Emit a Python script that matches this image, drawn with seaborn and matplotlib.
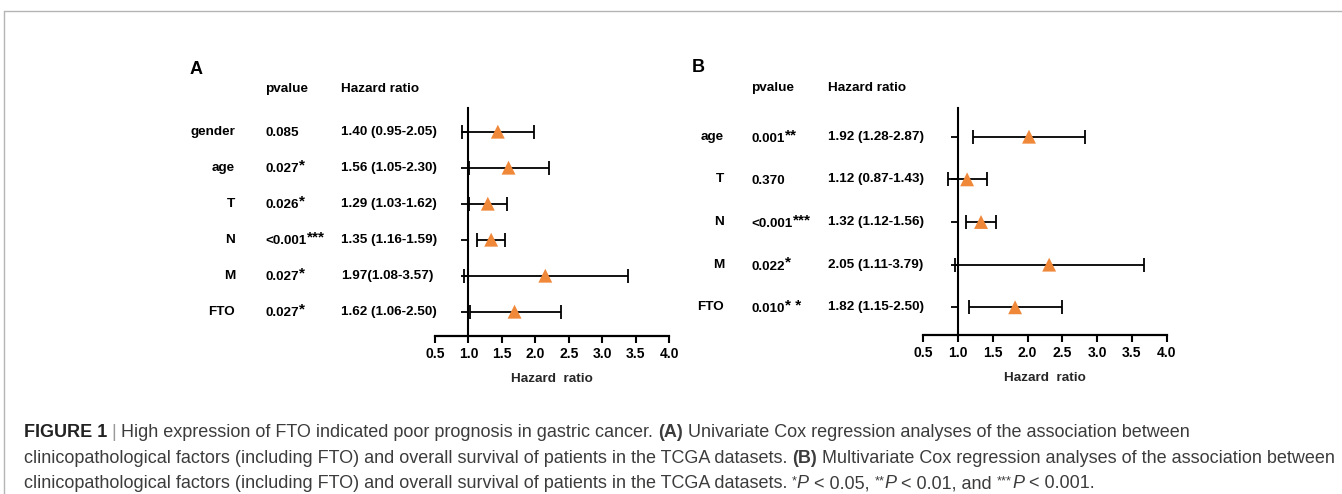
import numpy as np
import pandas as pd
import matplotlib
matplotlib.use("Agg")
import matplotlib.pyplot as plt
import seaborn as sns
from matplotlib.transforms import blended_transform_factory
from matplotlib.lines import Line2D

# ---------------- data ----------------
# Panel A (univariate)
a_factors = ["gender", "age", "T", "N", "M", "FTO"]
a_pvalues = ["0.085", "0.027", "0.026", "<0.001", "0.027", "0.027"]
a_stars = ["", "*", "*", "***", "*", "*"]
a_hr_text = ["1.40 (0.95-2.05)", "1.56 (1.05-2.30)", "1.29 (1.03-1.62)",
             "1.35 (1.16-1.59)", "1.97(1.08-3.57)", "1.62 (1.06-2.50)"]
a_point = [1.44, 1.60, 1.29, 1.34, 2.15, 1.69]
a_low = [0.90, 1.01, 1.01, 1.13, 0.93, 1.02]
a_high = [1.975, 2.21, 1.58, 1.55, 3.38, 2.39]

# Panel B (multivariate)
b_factors = ["age", "T", "N", "M", "FTO"]
b_pvalues = ["0.001", "0.370", "<0.001", "0.022", "0.010"]
b_stars = ["**", "", "***", "*", "* *"]
b_hr_text = ["1.92 (1.28-2.87)", "1.12 (0.87-1.43)", "1.32 (1.12-1.56)",
             "2.05 (1.11-3.79)", "1.82 (1.15-2.50)"]
b_point = [2.02, 1.13, 1.33, 2.31, 1.82]
b_low = [1.22, 0.86, 1.11, 0.95, 1.15]
b_high = [2.82, 1.42, 1.55, 3.68, 2.50]

x_ticks = [0.5, 1.0, 1.5, 2.0, 2.5, 3.0, 3.5, 4.0]
x_ticklabels = ["0.5", "1.0", "1.5", "2.0", "2.5", "3.0", "3.5", "4.0"]

ORANGE = "#F0883A"

# ---------------- style ----------------
sns.set_theme(style="ticks")
plt.rcParams["font.family"] = ["Liberation Sans", "DejaVu Sans"]

W, H = 1342, 494
fig = plt.figure(figsize=(W / 100, H / 100), dpi=100)
fig.patch.set_facecolor("white")


def fx(px):
    return px / W


def fy(py):
    return 1 - py / H


def draw_panel(rect, factors, pvals, stars, hrtxt, point, low, high,
               ylim, col_label_r, col_p, col_hr, letter, letter_xy, header_y):
    ax = fig.add_axes(rect)
    df = pd.DataFrame({"row": np.arange(len(factors)), "hr": point,
                       "low": low, "high": high})
    ax.errorbar(df["hr"], df["row"],
                xerr=[df["hr"] - df["low"], df["high"] - df["hr"]],
                fmt="none", ecolor="black", elinewidth=1.3, capsize=5,
                capthick=1.3, zorder=2)
    sns.scatterplot(data=df, x="hr", y="row", marker="^", s=100,
                    color=ORANGE, edgecolor="none", linewidth=0,
                    ax=ax, zorder=3, legend=False)
    ax.set_xlim(0.5, 4.0)
    ax.set_ylim(*ylim)
    ax.set_xticks(x_ticks)
    ax.set_xticklabels(x_ticklabels, fontweight="bold", fontsize=10)
    ax.set_yticks(df["row"])
    ax.set_yticklabels([])
    ax.set_ylabel("")
    ax.set_xlabel("Hazard  ratio", fontweight="bold", fontsize=9.7,
                  labelpad=8.5)
    ax.set_facecolor("none")
    for s in ["top", "right"]:
        ax.spines[s].set_visible(False)
    ax.spines["left"].set_position(("data", 1.0))
    ax.spines["left"].set_linewidth(1.5)
    ax.spines["bottom"].set_linewidth(1.6)
    ax.spines["left"].set_color("black")
    ax.spines["bottom"].set_color("black")
    ax.tick_params(axis="x", direction="out", length=5, width=1.5,
                   pad=3, colors="black")
    ax.tick_params(axis="y", direction="out", length=5, width=1.3,
                   colors="black")

    tr = blended_transform_factory(fig.transFigure, ax.transData)
    for i in range(len(factors)):
        ax.text(fx(col_label_r), i, factors[i], transform=tr, ha="right",
                va="center", fontsize=9.7, fontweight="bold", color="black")
        pt = ax.text(fx(col_p), i + 0.05, pvals[i], transform=tr, ha="left",
                     va="center", fontsize=9.7, fontweight="bold",
                     color="black")
        if stars[i]:
            ax.annotate(stars[i], xy=(1, 1), xycoords=pt,
                        xytext=(0.3, 3.5), textcoords="offset points",
                        ha="left", va="top", fontsize=11,
                        fontweight="bold", color="black")
        ax.text(fx(col_hr), i, hrtxt[i], transform=tr, ha="left",
                va="center", fontsize=9.7, fontweight="bold", color="black")
    fig.text(fx(col_p), fy(header_y), "pvalue", ha="left", va="center",
             fontsize=9.7, fontweight="bold", color="black")
    fig.text(fx(col_hr), fy(header_y), "Hazard ratio", ha="left",
             va="center", fontsize=9.7, fontweight="bold", color="black")
    fig.text(fx(letter_xy[0]), fy(letter_xy[1]), letter, ha="left",
             va="center", fontsize=13, fontweight="bold", color="black")
    return ax


# Panel A
draw_panel([fx(435), fy(336), fx(669) - fx(435), fy(108) - fy(336)],
           a_factors, a_pvalues, a_stars, a_hr_text, a_point, a_low, a_high,
           (5.675, -0.658), 235, 265, 341, "A", (190, 69), 89)
# Panel B
draw_panel([fx(923.3), fy(335), fx(1166.7) - fx(923.3), fy(108.3) - fy(335)],
           b_factors, b_pvalues, b_stars, b_hr_text, b_point, b_low, b_high,
           (4.65, -0.666), 724, 751, 827.7, "B", (691.7, 67), 88.3)

# ---------------- frame ----------------
fig.add_artist(Line2D([fx(4), 1.0], [fy(11), fy(11)], transform=fig.transFigure,
                      color="#b4b4b4", lw=1.0))
fig.add_artist(Line2D([fx(4), fx(4)], [fy(11), 0.0], transform=fig.transFigure,
                      color="#b4b4b4", lw=1.0))

# ---------------- caption ----------------
renderer = fig.canvas.get_renderer()
CAP = "#3c3c3c"


def width_of(s, size, weight="normal", style="normal"):
    t1 = fig.text(0, 0, "|" + s + "|", fontsize=size, fontweight=weight,
                  fontstyle=style)
    t2 = fig.text(0, 0, "||", fontsize=size, fontweight=weight,
                  fontstyle=style)
    w = t1.get_window_extent(renderer).width - t2.get_window_extent(renderer).width
    t1.remove()
    t2.remove()
    return w


line1 = [("FIGURE 1", "bold", "normal", "#222222", 0, 1.0),
         (" ", "normal", "normal", CAP, 0, 1.0),
         ("|", "normal", "normal", "#9a9a9a", 0, 1.0),
         (" High expression of FTO indicated poor prognosis in gastric cancer. ",
          "normal", "normal", CAP, 0, 1.0),
         ("(A)", "bold", "normal", CAP, 0, 1.0),
         (" Univariate Cox regression analyses of the association between",
          "normal", "normal", CAP, 0, 1.0)]
line2 = [("clinicopathological factors (including FTO) and overall survival of "
          "patients in the TCGA datasets. ", "normal", "normal", CAP, 0, 1.0),
         ("(B)", "bold", "normal", CAP, 0, 1.0),
         (" Multivariate Cox regression analyses of the association between",
          "normal", "normal", CAP, 0, 1.0)]
line3 = [("clinicopathological factors (including FTO) and overall survival of "
          "patients in the TCGA datasets. ", "normal", "normal", CAP, 0, 1.0),
         ("*", "normal", "normal", CAP, 4, 0.7),
         ("P", "normal", "italic", CAP, 0, 1.0),
         (" < 0.05, ", "normal", "normal", CAP, 0, 1.0),
         ("**", "normal", "normal", CAP, 4, 0.7),
         ("P", "normal", "italic", CAP, 0, 1.0),
         (" < 0.01, and ", "normal", "normal", CAP, 0, 1.0),
         ("***", "normal", "normal", CAP, 4, 0.7),
         ("P", "normal", "italic", CAP, 0, 1.0),
         (" < 0.001.", "normal", "normal", CAP, 0, 1.0)]

base_size = 11.0
target_w = 1327 - 23.5
meas = sum(width_of(s, base_size * sc, w, st) for s, w, st, c, r, sc in line2)
cap_size = base_size * target_w / meas

for line, base_y in [(line1, 436.7), (line2, 462.5), (line3, 488.0)]:
    x = 23.5
    for s, w, st, c, r, sc in line:
        size = cap_size * sc
        fig.text(fx(x), fy(base_y - r), s, fontsize=size, fontweight=w,
                 fontstyle=st, color=c, ha="left", va="baseline")
        x += width_of(s, size, w, st)

fig.savefig("out.png", dpi=100, facecolor="white")
